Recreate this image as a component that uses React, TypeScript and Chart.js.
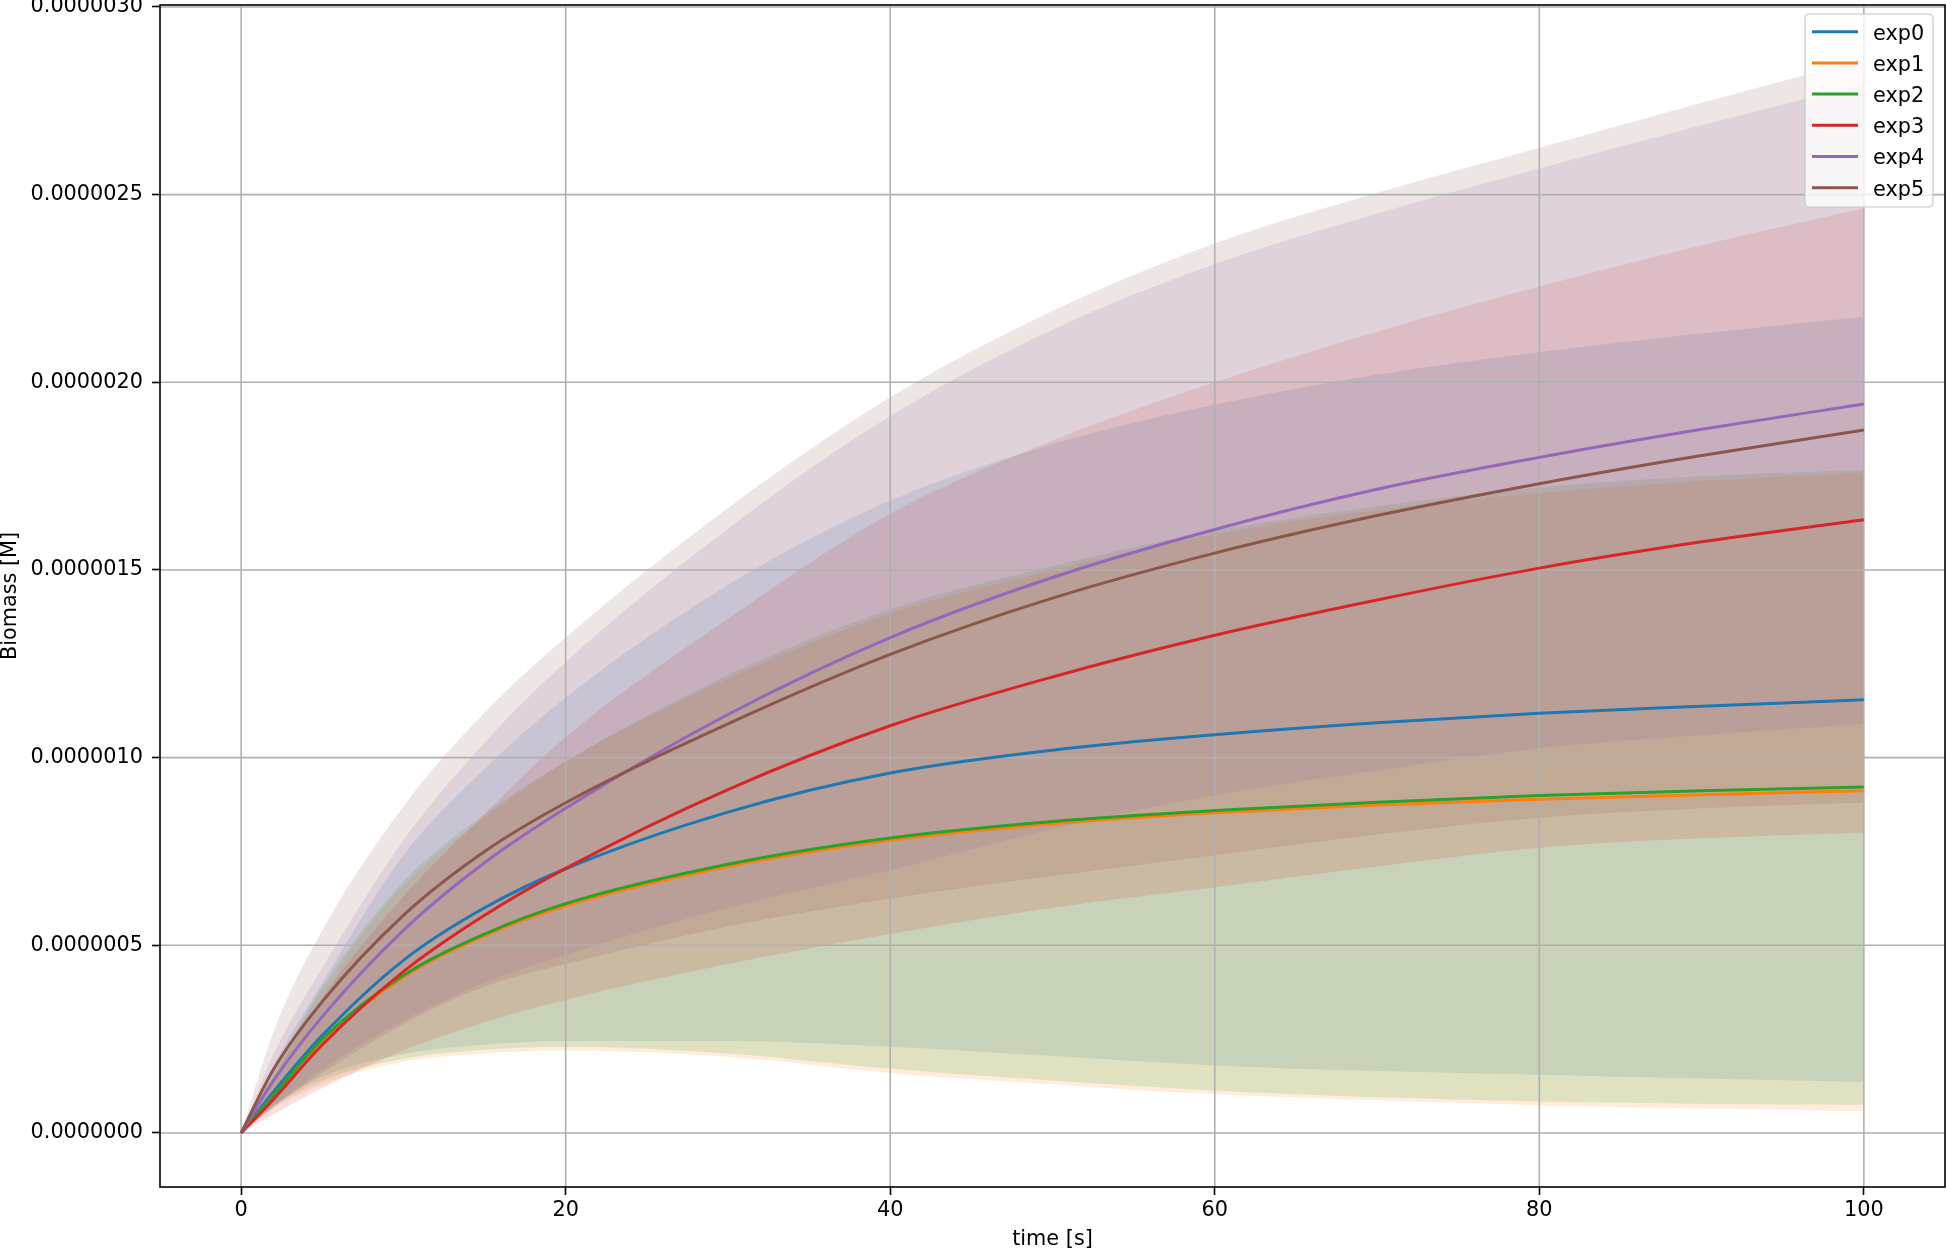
import React, { useEffect, useRef } from 'react';
import { Chart, registerables } from 'chart.js';

Chart.register(...registerables);

// ---------- data (biomass values in units of 1e-6 M) ----------
const UNIT = 1e-6;
const timePoints = [0, 2, 5, 10, 15, 20, 30, 40, 50, 60, 70, 80, 90, 100];
const seriesNames = ['exp0', 'exp1', 'exp2', 'exp3', 'exp4', 'exp5'];
const seriesColors = ['#1f77b4', '#ff7f0e', '#2ca02c', '#d62728', '#9467bd', '#8c564b'];
const BAND_ALPHA = 0.15;
const seriesRGB = [
  [31, 119, 180],
  [255, 127, 14],
  [44, 160, 44],
  [214, 39, 40],
  [148, 103, 189],
  [140, 86, 75],
];

const exp0Mean = [0, 0.11, 0.26, 0.46, 0.60, 0.704, 0.855, 0.959, 1.02, 1.061, 1.093, 1.118, 1.137, 1.154];
const exp1Mean = [0, 0.10, 0.245, 0.415, 0.525, 0.605, 0.71, 0.78, 0.824, 0.853, 0.874, 0.889, 0.901, 0.912];
const exp2Mean = [0, 0.10, 0.25, 0.42, 0.53, 0.611, 0.716, 0.786, 0.83, 0.859, 0.881, 0.899, 0.912, 0.922];
const exp3Mean = [0, 0.09, 0.235, 0.43, 0.58, 0.705, 0.915, 1.085, 1.215, 1.326, 1.42, 1.505, 1.575, 1.634];
const exp4Mean = [0, 0.14, 0.31, 0.54, 0.72, 0.865, 1.115, 1.32, 1.48, 1.608, 1.715, 1.80, 1.875, 1.942];
const exp5Mean = [0, 0.17, 0.35, 0.58, 0.75, 0.88, 1.09, 1.275, 1.425, 1.545, 1.645, 1.73, 1.805, 1.873];

const exp0Lower = [0, 0.075, 0.15, 0.21, 0.235, 0.245, 0.245, 0.23, 0.205, 0.18, 0.165, 0.155, 0.145, 0.136];
const exp0Upper = [0, 0.18, 0.40, 0.74, 0.97, 1.16, 1.46, 1.685, 1.835, 1.94, 2.02, 2.08, 2.13, 2.175];
const exp1Lower = [0, 0.065, 0.13, 0.19, 0.212, 0.22, 0.203, 0.16, 0.13, 0.103, 0.087, 0.074, 0.065, 0.058];
const exp1Upper = [0, 0.16, 0.38, 0.66, 0.84, 0.99, 1.21, 1.385, 1.50, 1.595, 1.66, 1.705, 1.738, 1.76];
const exp2Lower = [0, 0.07, 0.14, 0.198, 0.222, 0.23, 0.212, 0.171, 0.14, 0.113, 0.095, 0.084, 0.078, 0.075];
const exp2Upper = [0, 0.16, 0.39, 0.67, 0.85, 0.99, 1.22, 1.395, 1.51, 1.605, 1.67, 1.72, 1.75, 1.767];
const exp3Lower = [0, 0.05, 0.12, 0.22, 0.295, 0.355, 0.45, 0.53, 0.60, 0.655, 0.71, 0.76, 0.785, 0.80];
const exp3Upper = [0, 0.15, 0.36, 0.63, 0.85, 1.055, 1.37, 1.65, 1.845, 2.0, 2.135, 2.255, 2.365, 2.464];
const exp4Lower = [0, 0.07, 0.17, 0.30, 0.40, 0.475, 0.60, 0.70, 0.81, 0.90, 0.965, 1.025, 1.06, 1.09];
const exp4Upper = [0, 0.21, 0.44, 0.78, 1.04, 1.255, 1.61, 1.91, 2.14, 2.315, 2.45, 2.57, 2.685, 2.795];
const exp5Lower = [0, 0.07, 0.16, 0.29, 0.39, 0.45, 0.55, 0.625, 0.685, 0.74, 0.795, 0.84, 0.865, 0.88];
const exp5Upper = [0, 0.27, 0.54, 0.87, 1.12, 1.32, 1.665, 1.96, 2.19, 2.37, 2.505, 2.625, 2.745, 2.86];

const xTickValues = [0, 20, 40, 60, 80, 100];
const yTickValues = [0, 0.0000005, 0.000001, 0.0000015, 0.000002, 0.0000025, 0.000003];
const xRange = [-5, 105];
const yRange = [-0.1439e-6, 3.0053e-6];

const means = [exp0Mean, exp1Mean, exp2Mean, exp3Mean, exp4Mean, exp5Mean];
const lowers = [exp0Lower, exp1Lower, exp2Lower, exp3Lower, exp4Lower, exp5Lower];
const uppers = [exp0Upper, exp1Upper, exp2Upper, exp3Upper, exp4Upper, exp5Upper];

const FONT = 'DejaVu Sans';
const FONT_SIZE = 20.8;

const toPoints = (arr: number[]) => arr.map((v, i) => ({ x: timePoints[i], y: v * UNIT }));
const bandColor = (i: number) =>
  `rgba(${seriesRGB[i][0]},${seriesRGB[i][1]},${seriesRGB[i][2]},${BAND_ALPHA})`;

function buildDatasets() {
  const ds: any[] = [];
  // mean lines (reverse so exp5 is painted on top, like matplotlib)
  for (let i = seriesNames.length - 1; i >= 0; i--) {
    ds.push({
      label: seriesNames[i],
      data: toPoints(means[i]),
      borderColor: seriesColors[i],
      backgroundColor: seriesColors[i],
      borderWidth: 3,
      pointRadius: 0,
      fill: false,
      cubicInterpolationMode: 'monotone',
      order: 0,
    });
  }
  // bands (filled from lower to upper)
  for (let i = seriesNames.length - 1; i >= 0; i--) {
    ds.push({
      label: seriesNames[i] + ' lower',
      data: toPoints(lowers[i]),
      borderColor: 'rgba(0,0,0,0)',
      borderWidth: 0,
      pointRadius: 0,
      fill: false,
      cubicInterpolationMode: 'monotone',
      order: 1,
    });
    ds.push({
      label: seriesNames[i] + ' band',
      data: toPoints(uppers[i]),
      borderColor: 'rgba(0,0,0,0)',
      backgroundColor: bandColor(i),
      borderWidth: 0,
      pointRadius: 0,
      fill: '-1',
      cubicInterpolationMode: 'monotone',
      order: 1,
    });
  }
  return ds;
}

const overlayPlugin = {
  id: 'mplOverlay',
  beforeDatasetsDraw(chart: any) {
    const { ctx, chartArea, scales } = chart;
    const { left, right, top, bottom } = chartArea;
    ctx.save();
    ctx.beginPath();
    ctx.rect(left, top, right - left, bottom - top);
    ctx.clip();
    ctx.strokeStyle = '#b0b0b0';
    ctx.lineWidth = 1.6;
    ctx.beginPath();
    for (const v of xTickValues) {
      const px = scales.x.getPixelForValue(v);
      ctx.moveTo(px, top);
      ctx.lineTo(px, bottom);
    }
    for (const v of yTickValues) {
      const py = scales.y.getPixelForValue(v);
      ctx.moveTo(left, py);
      ctx.lineTo(right, py);
    }
    ctx.stroke();
    ctx.restore();
  },
  afterDatasetsDraw(chart: any) {
    const { ctx, chartArea } = chart;
    const { left, right, top, bottom } = chartArea;
    ctx.save();
    ctx.strokeStyle = '#000000';
    ctx.lineWidth = 1.6;
    ctx.strokeRect(left, top, right - left, bottom - top);
    ctx.restore();
  },
  afterDraw(chart: any) {
    const { ctx } = chart;
    const bx = 1805, by = 14, bw = 128, bh = 193, r = 5;
    ctx.save();
    ctx.beginPath();
    ctx.moveTo(bx + r, by);
    ctx.lineTo(bx + bw - r, by);
    ctx.quadraticCurveTo(bx + bw, by, bx + bw, by + r);
    ctx.lineTo(bx + bw, by + bh - r);
    ctx.quadraticCurveTo(bx + bw, by + bh, bx + bw - r, by + bh);
    ctx.lineTo(bx + r, by + bh);
    ctx.quadraticCurveTo(bx, by + bh, bx, by + bh - r);
    ctx.lineTo(bx, by + r);
    ctx.quadraticCurveTo(bx, by, bx + r, by);
    ctx.closePath();
    ctx.fillStyle = 'rgba(255,255,255,0.8)';
    ctx.fill();
    ctx.strokeStyle = 'rgba(204,204,204,0.8)';
    ctx.lineWidth = 1.6;
    ctx.stroke();
    ctx.font = `${FONT_SIZE}px "${FONT}"`;
    ctx.textBaseline = 'middle';
    ctx.textAlign = 'left';
    for (let i = 0; i < seriesNames.length; i++) {
      const y = 31.7 + i * 31.2;
      ctx.strokeStyle = seriesColors[i];
      ctx.lineWidth = 3;
      ctx.beginPath();
      ctx.moveTo(1812, y);
      ctx.lineTo(1858, y);
      ctx.stroke();
      ctx.fillStyle = '#000000';
      ctx.fillText(seriesNames[i], 1873, y + 2.5);
    }
    ctx.restore();
  },
};

export default function App() {
  const canvasRef = useRef<HTMLCanvasElement | null>(null);

  useEffect(() => {
    if (!canvasRef.current) return;
    Chart.defaults.font.family = FONT;
    const chart = new Chart(canvasRef.current, {
      type: 'line',
      data: { datasets: buildDatasets() },
      options: {
        responsive: false,
        animation: false,
        devicePixelRatio: 1,
        events: [],
        layout: { padding: { top: 5, right: 1, left: 0, bottom: 0 } },
        plugins: {
          legend: { display: false },
          tooltip: { enabled: false },
          filler: { drawTime: 'beforeDatasetsDraw' },
        },
        scales: {
          x: {
            type: 'linear',
            min: xRange[0],
            max: xRange[1],
            afterBuildTicks: (scale: any) => {
              scale.ticks = xTickValues.map((v) => ({ value: v }));
            },
            afterFit: (scale: any) => {
              scale.height = 63;
              scale.paddingLeft = 0;
              scale.paddingRight = 0;
            },
            border: { display: false },
            grid: {
              drawOnChartArea: false,
              drawTicks: true,
              tickLength: 8,
              tickColor: '#000000',
              tickWidth: 1.6,
              color: '#b0b0b0',
            },
            ticks: {
              color: '#000000',
              padding: 3.5,
              maxRotation: 0,
              autoSkip: false,
              font: { family: FONT, size: FONT_SIZE },
              callback: (v: any) => String(v),
            },
            title: {
              display: true,
              text: 'time [s]',
              color: '#000000',
              font: { family: FONT, size: FONT_SIZE },
              padding: { top: 0, bottom: -2 },
            },
          },
          y: {
            type: 'linear',
            min: yRange[0],
            max: yRange[1],
            afterBuildTicks: (scale: any) => {
              scale.ticks = yTickValues.map((v) => ({ value: v }));
            },
            afterFit: (scale: any) => {
              scale.width = 160;
              scale.paddingTop = 0;
              scale.paddingBottom = 0;
            },
            border: { display: false },
            grid: {
              drawOnChartArea: false,
              drawTicks: true,
              tickLength: 8,
              tickColor: '#000000',
              tickWidth: 1.6,
              color: '#b0b0b0',
            },
            ticks: {
              color: '#000000',
              padding: 9,
              autoSkip: false,
              font: { family: FONT, size: FONT_SIZE },
              callback: (v: any) => Number(v).toFixed(7),
            },
            title: {
              display: true,
              text: 'Biomass [M]',
              color: '#000000',
              font: { family: FONT, size: FONT_SIZE },
              padding: { top: -2, bottom: 0 },
            },
          },
        },
      },
      plugins: [overlayPlugin],
    } as any);
    return () => chart.destroy();
  }, []);

  return (
    <div style={{ position: 'absolute', left: 0, top: 0, width: 1946, height: 1250, background: '#ffffff' }}>
      <canvas ref={canvasRef} width={1946} height={1250} style={{ display: 'block', width: 1946, height: 1250 }} />
    </div>
  );
}
